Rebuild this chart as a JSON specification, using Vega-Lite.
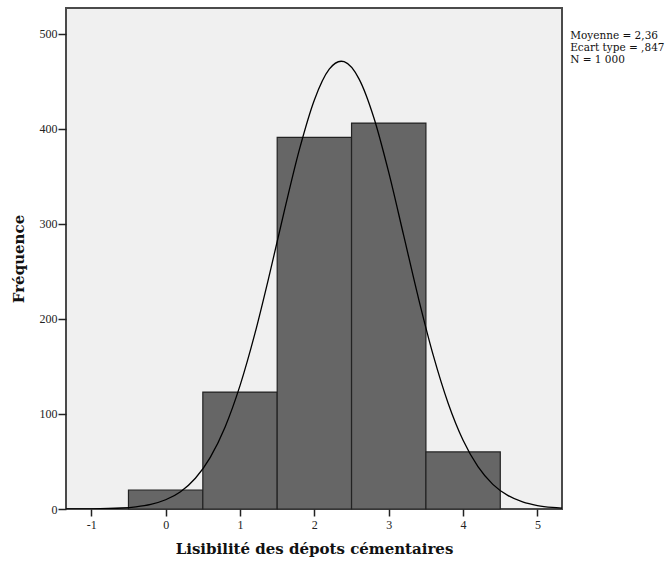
{
  "$schema": "https://vega.github.io/schema/vega-lite/v6.json",
  "autosize": "none",
  "width": 496,
  "height": 501,
  "padding": {"left": 66, "top": 8, "right": 109, "bottom": 54},
  "background": "white",
  "config": {
    "view": {"fill": "#f0f0f0", "stroke": "#4a4a4a", "strokeWidth": 2},
    "font": "Liberation Serif",
    "axis": {
      "grid": false,
      "domain": false,
      "tickColor": "#222",
      "tickWidth": 1.5,
      "labelFont": "Liberation Serif",
      "labelFontSize": 12,
      "labelColor": "#222",
      "titleFont": "DejaVu Serif",
      "titleFontSize": 15,
      "titleFontWeight": "bold",
      "titleColor": "#111"
    }
  },
  "datasets": {
    "bars": [
      {"lo": -0.5, "hi": 0.5, "count": 20},
      {"lo": 0.5, "hi": 1.5, "count": 123},
      {"lo": 1.5, "hi": 2.5, "count": 391},
      {"lo": 2.5, "hi": 3.5, "count": 406},
      {"lo": 3.5, "hi": 4.5, "count": 60}
    ],
    "curve": [
      {"x": -1.34, "f": 0.03},
      {"x": -1.0, "f": 0.18},
      {"x": -0.6, "f": 1.05},
      {"x": -0.4, "f": 2.33},
      {"x": -0.2, "f": 4.89},
      {"x": 0.0, "f": 9.71},
      {"x": 0.2, "f": 18.23},
      {"x": 0.4, "f": 32.37},
      {"x": 0.6, "f": 54.37},
      {"x": 0.8, "f": 86.37},
      {"x": 1.0, "f": 129.77},
      {"x": 1.2, "f": 184.39},
      {"x": 1.4, "f": 247.79},
      {"x": 1.6, "f": 314.94},
      {"x": 1.8, "f": 378.53},
      {"x": 2.0, "f": 430.33},
      {"x": 2.2, "f": 462.68},
      {"x": 2.36, "f": 471.01},
      {"x": 2.4, "f": 470.49},
      {"x": 2.6, "f": 452.48},
      {"x": 2.8, "f": 411.56},
      {"x": 3.0, "f": 354.05},
      {"x": 3.2, "f": 288.04},
      {"x": 3.4, "f": 221.64},
      {"x": 3.6, "f": 161.30},
      {"x": 3.8, "f": 111.01},
      {"x": 4.0, "f": 72.27},
      {"x": 4.2, "f": 44.50},
      {"x": 4.4, "f": 25.91},
      {"x": 4.6, "f": 14.27},
      {"x": 4.8, "f": 7.43},
      {"x": 5.0, "f": 3.66},
      {"x": 5.2, "f": 1.70},
      {"x": 5.33, "f": 1.01}
    ],
    "stats": [
      {"label": "Moyenne = 2,36", "y": 494},
      {"label": "Ecart type = ,847", "y": 481.5},
      {"label": "N = 1 000", "y": 469}
    ]
  },
  "layer": [
    {
      "data": {"name": "bars"},
      "mark": {"type": "rect", "fill": "#666666", "stroke": "#222", "strokeWidth": 1.2},
      "encoding": {
        "x": {
          "field": "lo", "type": "quantitative",
          "scale": {"domain": [-1.34, 5.33], "nice": false, "zero": false},
          "axis": {"values": [-1, 0, 1, 2, 3, 4, 5], "labelExpr": "'' + datum.value", "tickSize": 7, "labelPadding": 3, "title": "Lisibilité des dépots cémentaires", "titlePadding": 11}
        },
        "x2": {"field": "hi"},
        "y": {
          "field": "count", "type": "quantitative",
          "scale": {"domain": [0, 527], "nice": false},
          "axis": {"values": [0, 100, 200, 300, 400, 500], "tickSize": 8, "labelPadding": 1, "title": "Fréquence", "titlePadding": 13}
        },
        "y2": {"datum": 0}
      }
    },
    {
      "data": {"name": "curve"},
      "mark": {"type": "line", "color": "#000", "strokeWidth": 1.3, "interpolate": "monotone", "clip": true},
      "encoding": {
        "x": {"field": "x", "type": "quantitative"},
        "y": {"field": "f", "type": "quantitative"}
      }
    },
    {
      "data": {"name": "stats"},
      "mark": {"type": "text", "align": "left", "baseline": "alphabetic", "fontSize": 10.5, "font": "DejaVu Serif", "color": "#111"},
      "encoding": {
        "x": {"datum": 5.44, "type": "quantitative"},
        "y": {"field": "y", "type": "quantitative"},
        "text": {"field": "label"}
      }
    }
  ]
}
